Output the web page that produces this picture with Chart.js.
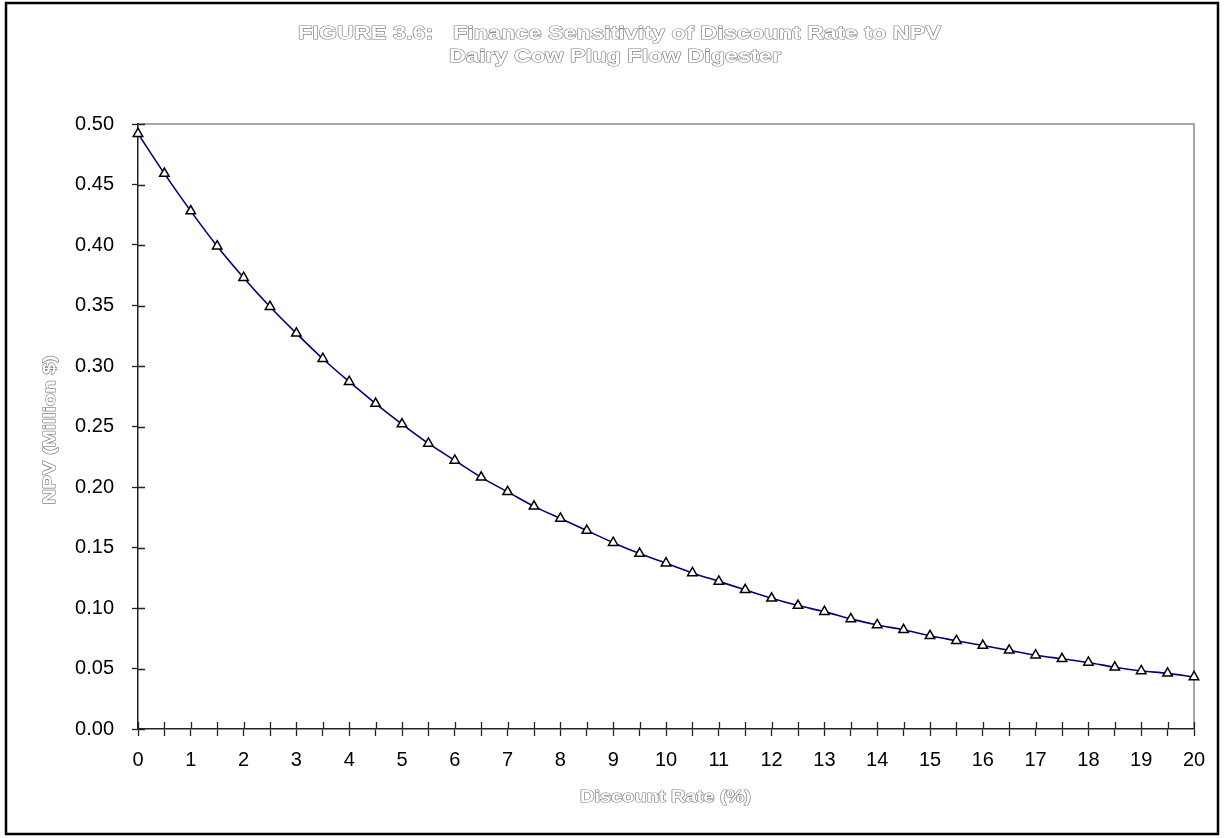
<!DOCTYPE html>
<html>
<head>
<meta charset="utf-8">
<title>Finance Sensitivity of Discount Rate to NPV</title>
<script src="https://cdn.jsdelivr.net/npm/chart.js@4"></script>
<style>
    html, body {margin: 0; padding: 0; background: #fff;}
    canvas {display: block;}
</style>
</head>
<body>
<canvas id="npvGraph" width="1225" height="838"></canvas>
<script>
// discount rate (%) and NPV (million $)
const discountRates = [0, 0.5, 1, 1.5, 2, 2.5, 3, 3.5, 4, 4.5, 5, 5.5, 6, 6.5, 7, 7.5, 8, 8.5, 9, 9.5,
                       10, 10.5, 11, 11.5, 12, 12.5, 13, 13.5, 14, 14.5, 15, 15.5, 16, 16.5, 17, 17.5, 18, 18.5, 19, 19.5, 20];
const npvValues = [0.492, 0.459, 0.428, 0.399, 0.373, 0.349, 0.327, 0.306, 0.287, 0.269,
                   0.252, 0.236, 0.222, 0.208, 0.196, 0.184, 0.174, 0.164, 0.154, 0.145,
                   0.137, 0.129, 0.122, 0.115, 0.108, 0.102, 0.097, 0.091, 0.086, 0.082,
                   0.077, 0.073, 0.069, 0.065, 0.061, 0.058, 0.055, 0.051, 0.048, 0.046, 0.043];
const titleLines = ['FIGURE 3.6:   Finance Sensitivity of Discount Rate to NPV', 'Dairy Cow Plug Flow Digester'],
      xTitle = 'Discount Rate (%)',
      yTitle = 'NPV (Million $)';

const canvas = document.getElementById('npvGraph'),
      ctx = canvas.getContext('2d');

// hollow grey lettering like the old Excel "outline" font
function outlinedText(c, text, x, y, size, width, angle) {
    c.save();
    c.font = 'bold ' + size + 'px "Liberation Sans", Arial, sans-serif';
    c.textAlign = 'center';
    c.textBaseline = 'alphabetic';
    c.translate(x, y);
    if (angle) {c.rotate(angle);}
    const w = c.measureText(text).width;
    c.scale(width / w, 1);
    c.lineJoin = 'round';
    c.lineWidth = 1.2;
    c.strokeStyle = '#808080';
    c.strokeText(text, 0, 0);
    c.fillStyle = '#ffffff';
    c.fillText(text, 0, 0);
    c.restore();
}

const framePlugin = {
    id: 'frame',
    beforeDraw(chart) {
        const c = chart.ctx, a = chart.chartArea;
        c.save();
        c.fillStyle = '#fff';
        c.fillRect(0, 0, chart.width, chart.height);
        c.strokeStyle = '#000';
        c.lineWidth = 2.5;
        c.strokeRect(6, 3, 1212, 831);
        // grey top and right edges of the plot
        c.strokeStyle = '#8a8a8a';
        c.lineWidth = 1.5;
        c.beginPath();
        c.moveTo(a.left, a.top);
        c.lineTo(a.right, a.top);
        c.lineTo(a.right, a.bottom);
        c.stroke();
        c.restore();
    },
    beforeDatasetsDraw(chart) {
        const c = chart.ctx, a = chart.chartArea,
              xs = chart.scales.x, ys = chart.scales.y;
        // inner half of the crossing tick marks
        c.save();
        c.strokeStyle = '#222';
        c.lineWidth = 1.3;
        c.beginPath();
        xs.ticks.forEach(t => {
            const px = Math.round(xs.getPixelForValue(t.value)) + 0.5;
            c.moveTo(px, a.bottom);
            c.lineTo(px, a.bottom - 7);
        });
        ys.ticks.forEach(t => {
            const py = Math.round(ys.getPixelForValue(t.value)) + 0.5;
            c.moveTo(a.left, py);
            c.lineTo(a.left + 7, py);
        });
        c.stroke();
        c.restore();
    },
    afterDraw(chart) {
        const c = chart.ctx;
        outlinedText(c, titleLines[0], 619.5, 39, 19, 643, 0);
        outlinedText(c, titleLines[1], 615, 62, 19, 332, 0);
        outlinedText(c, xTitle, 665.5, 802, 16, 171, 0);
        outlinedText(c, yTitle, 55, 430, 16, 149, -Math.PI / 2);
    }
};

const points = discountRates.map((r, i) => ({x: r, y: npvValues[i]}));

window.npvChart = new Chart(ctx, {
    type: 'line',
    data: {
        datasets: [{
            label: 'NPV',
            data: points,
            clip: false,
            borderColor: '#000080',
            borderWidth: 1.6,
            tension: 0.4,
            cubicInterpolationMode: 'monotone',
            pointStyle: 'triangle',
            pointRadius: 5.5,
            pointBackgroundColor: '#ffffff',
            pointBorderColor: '#000000',
            pointBorderWidth: 1.5
        }]
    },
    options: {
        responsive: false,
        animation: false,
        layout: {padding: {left: 0, top: 124, right: 31, bottom: 0}},
        scales: {
            x: {
                type: 'linear',
                min: 0,
                max: 20,
                afterFit: scale => {scale.height = 109;},
                grid: {drawOnChartArea: false, drawTicks: true, tickLength: 7, tickColor: '#222', tickWidth: 1.3},
                border: {display: true, color: '#222', width: 1.5},
                ticks: {
                    stepSize: 0.5,
                    autoSkip: false,
                    maxRotation: 0,
                    padding: 12,
                    color: '#000',
                    font: {family: '"Liberation Sans", Arial, sans-serif', size: 20},
                    callback: v => Number.isInteger(v) ? v : ''
                }
            },
            y: {
                min: 0,
                max: 0.5,
                afterFit: scale => {scale.width = 138;},
                grid: {drawOnChartArea: false, drawTicks: true, tickLength: 6, tickColor: '#222', tickWidth: 1.3},
                border: {display: true, color: '#222', width: 1.5},
                ticks: {
                    stepSize: 0.05,
                    padding: 18,
                    color: '#000',
                    font: {family: '"Liberation Sans", Arial, sans-serif', size: 20},
                    callback: v => v.toFixed(2)
                }
            }
        },
        plugins: {
            legend: {display: false},
            title: {display: false},
            tooltip: {enabled: false}
        }
    },
    plugins: [framePlugin]
});
</script>
</body>
</html>
